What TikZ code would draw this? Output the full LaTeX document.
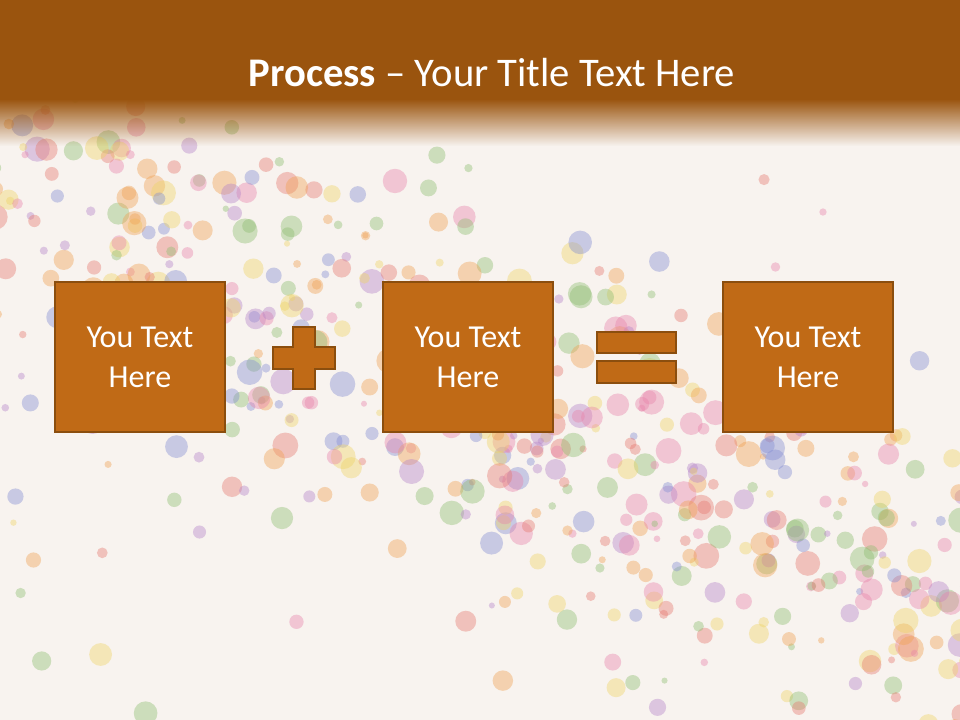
\documentclass[tikz,border=0pt]{standalone}
\usepackage{fontspec}
\setmainfont{Carlito}
\usetikzlibrary{fadings}
\definecolor{bgc}{RGB}{248,243,239}
\definecolor{hdr}{RGB}{154,84,14}
\definecolor{boxfill}{RGB}{192,106,22}
\definecolor{boxline}{RGB}{139,78,14}
\definecolor{bA}{RGB}{230,120,110}
\definecolor{bB}{RGB}{238,212,100}
\definecolor{bC}{RGB}{140,188,110}
\definecolor{bD}{RGB}{130,140,210}
\definecolor{bE}{RGB}{180,130,200}
\definecolor{bF}{RGB}{240,160,80}
\definecolor{bG}{RGB}{232,130,170}
\pgfmathdeclarerandomlist{bubcols}{{bA}{bB}{bC}{bD}{bE}{bF}{bG}}
\tikzset{
  textbox/.style={draw=boxline, line width=1.6pt, fill=boxfill, minimum width=127.5pt, minimum height=112.5pt, inner sep=0pt, align=center, text=white, font=\fontsize{24}{30}\selectfont},
  opshape/.style={draw=boxline, line width=1.6pt, fill=boxfill},
  bubble/.style={opacity=0.4}
}
\begin{document}
\begin{tikzpicture}[x=0.75pt,y=-0.75pt]
\useasboundingbox (0,0) rectangle (960,720);
\fill[bgc] (0,0) rectangle (960,720);
% bubbles
\pgfmathsetseed{7}
\begin{scope}
\clip (0,100) rectangle (960,720);
\foreach \i in {1,...,560}{
  \pgfmathsetmacro\bx{rnd*990-15}
  \pgfmathsetmacro\by{205+0.42*\bx+95*(rnd+rnd+rnd-1.5)*2}
  \pgfmathsetmacro\br{3+rnd*10}
  \pgfmathrandomitem{\bc}{bubcols}
  \fill[\bc, bubble] (\bx,\by) circle[radius=\br*0.75pt];
}
\foreach \i in {1,...,50}{
  \pgfmathsetmacro\bx{rnd*960}
  \pgfmathsetmacro\by{120+rnd*600}
  \pgfmathsetmacro\br{3+rnd*9}
  \pgfmathrandomitem{\bc}{bubcols}
  \fill[\bc, bubble] (\bx,\by) circle[radius=\br*0.75pt];
}
\end{scope}
% header
\fill[hdr] (0,0) rectangle (960,100);
\fill[hdr, path fading=south] (0,99) rectangle (960,146);
\node[anchor=base, text=white, font=\fontsize{30.5}{36}\selectfont] (title) at (492,87) {\textbf{Process} -- Your Title Text Here};
% boxes
\node[textbox] (box1) at (140,357) {You Text\\Here};
\node[textbox] (box2) at (468,357) {You Text\\Here};
\node[textbox] (box3) at (808,357) {You Text\\Here};
% plus
\draw[opshape] (293,327) -- (315,327) -- (315,347) -- (335,347) -- (335,369) -- (315,369) -- (315,389) -- (293,389) -- (293,369) -- (273,369) -- (273,347) -- (293,347) -- cycle;
% equals
\draw[opshape] (597,332) rectangle (676,353);
\draw[opshape] (597,361) rectangle (676,383);
\end{tikzpicture}
\end{document}
